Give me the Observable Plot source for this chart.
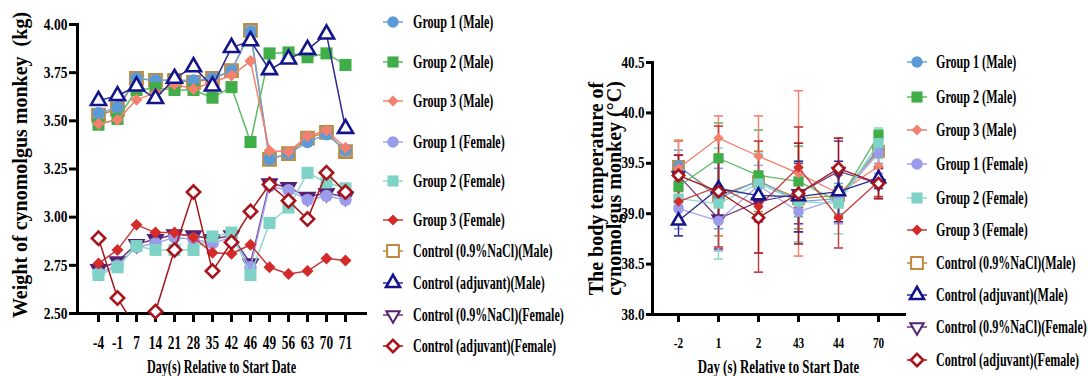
<!DOCTYPE html>
<html>
<head>
<meta charset="utf-8">
<script src="https://cdn.jsdelivr.net/npm/d3@7"></script>
<script src="https://cdn.jsdelivr.net/npm/@observablehq/plot@0.6"></script>
<style>
html,body{margin:0;padding:0;background:#fff;}
#root{position:relative;width:1088px;height:376px;overflow:hidden;background:#fff;}
#root > svg{position:absolute;top:0;}
</style>
</head>
<body>
<div id="root"></div>
<script>
// ---------------- DATA ----------------
const seriesNames = ["Group 1 (Male)","Group 2 (Male)","Group 3 (Male)","Group 1 (Female)","Group 2 (Female)","Group 3 (Female)","Control (0.9%NaCl)(Male)","Control (adjuvant)(Male)","Control (0.9%NaCl)(Female)","Control (adjuvant)(Female)"];

// Left panel: body weight (kg)
const weightDays = ["-4","-1","7","14","21","28","35","42","46","49","56","63","70","71"];
const weightYTicks = [2.50, 2.75, 3.00, 3.25, 3.50, 3.75, 4.00];
const weightG1Male   = [3.54, 3.57, 3.72, 3.71, 3.71, 3.71, 3.72, 3.76, 3.96, 3.30, 3.33, 3.39, 3.43, 3.35];
const weightG2Male   = [3.48, 3.51, 3.66, 3.67, 3.66, 3.66, 3.62, 3.675, 3.39, 3.85, 3.855, 3.83, 3.85, 3.79];
const weightG3Male   = [3.485, 3.505, 3.61, 3.645, 3.69, 3.665, 3.70, 3.735, 3.81, 3.345, 3.34, 3.42, 3.45, 3.36];
const weightG1Female = [2.71, 2.75, 2.845, 2.865, 2.895, 2.885, 2.865, 2.895, 2.74, 3.16, 3.14, 3.09, 3.11, 3.09];
const weightG2Female = [2.70, 2.74, 2.85, 2.83, 2.83, 2.83, 2.90, 2.92, 2.70, 2.97, 3.05, 3.23, 3.18, 3.15];
const weightG3Female = [2.76, 2.83, 2.96, 2.92, 2.92, 2.895, 2.815, 2.81, 2.857, 2.74, 2.705, 2.72, 2.785, 2.775];
const weightCtrlNaClMale   = [3.53, 3.56, 3.72, 3.71, 3.71, 3.70, 3.72, 3.76, 3.97, 3.30, 3.33, 3.41, 3.44, 3.34];
const weightCtrlAdjMale    = [3.605, 3.63, 3.68, 3.615, 3.72, 3.78, 3.68, 3.88, 3.915, 3.765, 3.82, 3.87, 3.95, 3.46];
const weightCtrlNaClFemale = [2.73, 2.77, 2.86, 2.885, 2.91, 2.905, 2.885, 2.905, 2.76, 3.175, 3.155, 3.105, 3.125, 3.105];
const weightCtrlAdjFemale  = [2.89, 2.58, 2.42, 2.51, 2.83, 3.13, 2.72, 2.87, 3.03, 3.17, 3.085, 2.99, 3.23, 3.13];

// Right panel: body temperature (°C), mean and SD
const tempDays = ["-2","1","2","43","44","70"];
const tempYTicks = [38.0, 38.5, 39.0, 39.5, 40.0, 40.5];
const tempG1Male   = [39.48, 39.15, 39.33, 39.12, 39.15, 39.65];
const tempG2Male   = [39.27, 39.55, 39.38, 39.32, 39.12, 39.78];
const tempG3Male   = [39.45, 39.75, 39.57, 39.40, 39.20, 39.47];
const tempG1Female = [39.05, 38.93, 39.28, 39.02, 39.15, 39.60];
const tempG2Female = [39.15, 39.10, 39.30, 39.12, 39.10, 39.70];
const tempG3Female = [39.12, 39.27, 39.07, 39.46, 38.96, 39.32];
const tempCtrlNaClMale   = [39.47, 39.18, 39.32, 39.15, 39.18, 39.62];
const tempCtrlAdjMale    = [38.93, 39.25, 39.18, 39.17, 39.22, 39.35];
const tempCtrlNaClFemale = [39.38, 38.95, 39.12, 39.20, 39.42, 39.30];
const tempCtrlAdjFemale  = [39.38, 39.22, 38.96, 39.20, 39.45, 39.30];
const sdG1Male   = [0.15, 0.30, 0.25, 0.30, 0.15, 0.15];
const sdG2Male   = [0.20, 0.35, 0.45, 0.35, 0.15, 0.05];
const sdG3Male   = [0.28, 0.22, 0.40, 0.82, 0.25, 0.20];
const sdG1Female = [0.20, 0.30, 0.20, 0.30, 0.25, 0.20];
const sdG2Female = [0.20, 0.55, 0.30, 0.40, 0.30, 0.15];
const sdG3Female = [0.20, 0.60, 0.65, 0.40, 0.30, 0.15];
const sdCtrlNaClMale   = [0.25, 0.40, 0.30, 0.30, 0.20, 0.15];
const sdCtrlAdjMale    = [0.15, 0.30, 0.20, 0.35, 0.30, 0.10];
const sdCtrlNaClFemale = [0.20, 0.30, 0.20, 0.30, 0.30, 0.15];
const sdCtrlAdjFemale  = [0.20, 0.30, 0.35, 0.50, 0.30, 0.15];

const weightSeries = [weightG1Male, weightG2Male, weightG3Male, weightG1Female, weightG2Female, weightG3Female, weightCtrlNaClMale, weightCtrlAdjMale, weightCtrlNaClFemale, weightCtrlAdjFemale];
const tempSeries = [tempG1Male, tempG2Male, tempG3Male, tempG1Female, tempG2Female, tempG3Female, tempCtrlNaClMale, tempCtrlAdjMale, tempCtrlNaClFemale, tempCtrlAdjFemale];
const sdSeries = [sdG1Male, sdG2Male, sdG3Male, sdG1Female, sdG2Female, sdG3Female, sdCtrlNaClMale, sdCtrlAdjMale, sdCtrlNaClFemale, sdCtrlAdjFemale];

// ---------------- STYLES ----------------
const triangleDown = {draw(ctx, size) {
  const y = -Math.sqrt(size / (Math.sqrt(3) * 3));
  ctx.moveTo(0, -y * 2); ctx.lineTo(-Math.sqrt(3) * y, y); ctx.lineTo(Math.sqrt(3) * y, y); ctx.closePath();
}};
const capSym = {draw(ctx, size) { const w = Math.sqrt(size) / 2; ctx.moveTo(-w, 0); ctx.lineTo(w, 0); }};
const styles = [
  {color:"#5b9bd5", line:"#6fa6da", sym:"circle",   d3s:d3.symbolCircle,   fill:"#5b9bd5", lfill:"#5b9bd5", r:6.2, sw:0},
  {color:"#3fae49", line:"#5cbb63", sym:"square",   d3s:d3.symbolSquare,   fill:"#3fae49", lfill:"#3fae49", r:6.8, sw:0},
  {color:"#f4806e", line:"#f4806e", sym:"diamond2", d3s:d3.symbolDiamond2, fill:"#f4806e", lfill:"#f4806e", r:5.4, sw:0},
  {color:"#9b9bec", line:"#a5a5ee", sym:"circle",   d3s:d3.symbolCircle,   fill:"#9b9bec", lfill:"#9b9bec", r:6.2, sw:0},
  {color:"#7fd3c6", line:"#8fd8cc", sym:"square",   d3s:d3.symbolSquare,   fill:"#7fd3c6", lfill:"#7fd3c6", r:6.8, sw:0},
  {color:"#d42a2a", line:"#c83a3a", sym:"diamond2", d3s:d3.symbolDiamond2, fill:"#d42a2a", lfill:"#d42a2a", r:5.4, sw:0},
  {color:"#c08a3e", line:"#c08a3e", sym:"square",   d3s:d3.symbolSquare,   fill:"#98a4b2", lfill:"white",   r:7.2, sw:2},
  {color:"#14148a", line:"#2a2a90", sym:"triangle", d3s:d3.symbolTriangle, fill:"white",   lfill:"white",   r:5.6, sw:2.6},
  {color:"#55206f", line:"#6a3a80", sym:triangleDown, d3s:triangleDown,   fill:"#55206f", lfill:"white",   r:5.4, sw:2},
  {color:"#a8141c", line:"#a8141c", sym:"diamond2", d3s:d3.symbolDiamond2, fill:"white",   lfill:"white",   r:6.0, sw:2.6}
];
const drawOrder = [6, 8, 0, 1, 2, 3, 4, 5, 7, 9];
const FONT = "'Liberation Serif','Times New Roman',serif";

// tidy tables
const weightData = weightSeries.flatMap((vals, s) => vals.map((v, i) => ({s, day: weightDays[i], v})));
const tempData = tempSeries.flatMap((vals, s) => vals.map((v, i) => ({s, day: tempDays[i], v, sd: sdSeries[s][i]})));

function seriesMarks(data, s, opts) {
  const st = styles[s];
  const rows = data.filter(d => d.s === s);
  return [
    Plot.line(rows, {x: "day", y: "v", stroke: st.line, strokeWidth: opts.lw, clip: true}),
    Plot.dot(rows.filter(d => d.v >= opts.ymin), {x: "day", y: "v", symbol: st.sym, r: st.r * opts.rs,
      fill: st.fill, stroke: st.sw ? st.color : "none", strokeWidth: st.sw})
  ];
}

function condense(svg, selector, s, test = () => true) {
  svg.querySelectorAll(selector).forEach(t => {
    if (!test(t)) return;
    const tr = t.getAttribute("transform") || "";
    const x = parseFloat(t.getAttribute("x") || 0);
    t.setAttribute("transform", `${tr} translate(${x},0) scale(${s},1) translate(${-x},0)`);
  });
}
const isXTitle = t => t.textContent.startsWith("Day");

// ---------------- LEFT PANEL ----------------
const left = Plot.plot({
  width: 380, height: 376,
  marginLeft: 77, marginRight: 15, marginTop: 24, marginBottom: 63,
  style: {fontFamily: FONT, fontWeight: "bold", background: "none", color: "black", overflow: "visible"},
  x: {type: "point", domain: weightDays, padding: 0.93},
  y: {domain: [2.5, 4.0]},
  marks: [
    Plot.axisY({ticks: weightYTicks, tickFormat: d3.format(".2f"), tickSize: 8, tickPadding: 2, strokeWidth: 3, fontSize: 16.5, label: null}),
    Plot.axisX({tickSize: 9, tickPadding: 13, strokeWidth: 3, fontSize: 19, label: null}),
    Plot.frame({anchor: "left", strokeWidth: 3}),
    Plot.frame({anchor: "bottom", strokeWidth: 3}),
    ...drawOrder.flatMap(s => seriesMarks(weightData, s, {lw: 1.5, rs: 1, ymin: 2.5})),
    Plot.text(["Day(s) Relative to Start Date"], {frameAnchor: "bottom", dy: 59, fontSize: 19, fill: "black"}),
    Plot.text(["Weight of cynomolgus monkey\u00a0 (kg)"], {frameAnchor: "left", textAnchor: "middle", rotate: -90, dx: -57, dy: -4, fontSize: 20, fill: "black"})
  ]
});
left.style.left = "0px";
condense(left, 'g[aria-label="x-axis tick label"] text', 0.7);
condense(left, 'g[aria-label="y-axis tick label"] text', 0.82);
condense(left, 'g[aria-label="text"] text', 0.64, isXTitle);

// ---------------- RIGHT PANEL ----------------
const right = Plot.plot({
  width: 340, height: 376,
  marginLeft: 82, marginRight: 6, marginTop: 62, marginBottom: 62,
  style: {fontFamily: FONT, fontWeight: "bold", background: "none", color: "black", overflow: "visible"},
  x: {type: "point", domain: tempDays, padding: 0.65},
  y: {domain: [38, 40.5]},
  marks: [
    Plot.axisY({ticks: tempYTicks, tickFormat: d3.format(".1f"), tickSize: 6, tickPadding: 2, strokeWidth: 3, fontSize: 16, label: null}),
    Plot.axisX({tickSize: 8, tickPadding: 15, strokeWidth: 3, fontSize: 15, label: null}),
    Plot.frame({anchor: "left", strokeWidth: 3}),
    Plot.frame({anchor: "bottom", strokeWidth: 3}),
    ...drawOrder.flatMap(s => {
      const st = styles[s];
      const rows = tempData.filter(d => d.s === s);
      return [
        Plot.ruleX(rows, {x: "day", y1: d => d.v - d.sd, y2: d => d.v + d.sd, stroke: st.line, strokeWidth: 1.4}),
        Plot.dot(rows, {x: "day", y: d => d.v + d.sd, symbol: capSym, r: 5.2, fill: "none", stroke: st.line, strokeWidth: 1.6}),
        Plot.dot(rows, {x: "day", y: d => d.v - d.sd, symbol: capSym, r: 5.2, fill: "none", stroke: st.line, strokeWidth: 1.6})
      ];
    }),
    ...drawOrder.flatMap(s => seriesMarks(tempData, s, {lw: 1.3, rs: 0.85, ymin: 38})),
    Plot.text(["Day (s) Relative to Start Date"], {frameAnchor: "bottom", dy: 58, fontSize: 19, fill: "black"}),
    Plot.text(["The body temperature of\ncynomolgus monkey (°C)"], {frameAnchor: "left", textAnchor: "middle", rotate: -90, dx: -46, lineHeight: 0.9, fontSize: 20, fill: "black"})
  ]
});
right.style.left = "570px";
condense(right, 'g[aria-label="x-axis tick label"] text', 0.75);
condense(right, 'g[aria-label="y-axis tick label"] text', 0.82);
condense(right, 'g[aria-label="text"] text', 0.68, isXTitle);

const root = document.getElementById("root");
root.appendChild(left);
root.appendChild(right);

// ---------------- LEGENDS ----------------
const legendSvg = d3.create("svg").attr("width", 1088).attr("height", 376)
  .style("left", "0px").style("pointer-events", "none");
const legends = [
  {mx: 393, tx: 413, ys: [22, 62, 101, 142, 181, 220, 251, 283, 315, 346]},
  {mx: 917, tx: 936, ys: [62, 97, 130, 164, 198, 230, 263, 295, 327, 360]}
];
for (const L of legends) {
  seriesNames.forEach((name, s) => {
    const st = styles[s], y = L.ys[s];
    const g = legendSvg.append("g");
    g.append("line").attr("x1", L.mx - 10).attr("x2", L.mx + 10).attr("y1", y).attr("y2", y)
      .attr("stroke", st.line).attr("stroke-width", 1.5);
    g.append("path").attr("transform", `translate(${L.mx},${y})`)
      .attr("d", d3.symbol(st.d3s, Math.PI * st.r * st.r * 0.85)())
      .attr("fill", st.sw ? st.lfill : st.fill).attr("stroke", st.sw ? st.color : "none").attr("stroke-width", st.sw);
    g.append("text").attr("x", L.tx).attr("y", y).attr("dy", "0.33em")
      .attr("font-family", FONT).attr("font-weight", "bold").attr("font-size", 19.5)
      .attr("transform", `translate(${L.tx},0) scale(0.62,1) translate(${-L.tx},0)`)
      .text(name);
  });
}
root.appendChild(legendSvg.node());
</script>
</body>
</html>
